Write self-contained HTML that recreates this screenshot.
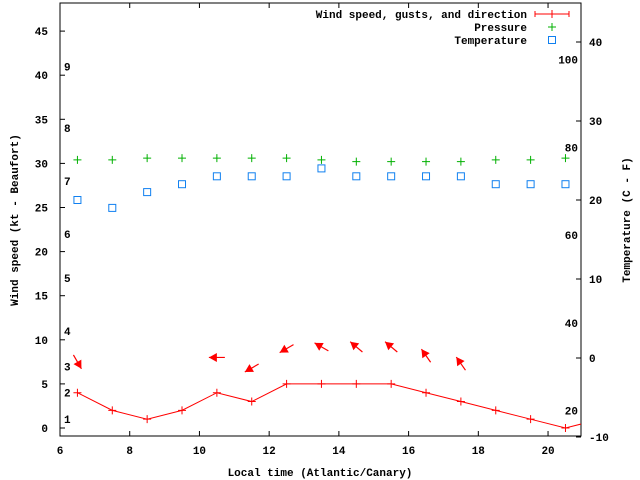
<!DOCTYPE html>
<html><head><meta charset="utf-8"><style>
body{margin:0;background:#fff}
svg{display:block;font-family:"Liberation Mono",monospace;font-size:11px;font-weight:bold}
</style></head><body>
<svg id="c" width="640" height="480" xmlns="http://www.w3.org/2000/svg"></svg>
<script>
const hours=[6.5,7.5,8.5,9.5,10.5,11.5,12.5,13.5,14.5,15.5,16.5,17.5,18.5,19.5,20.5,21.5];
const windKt=[4,2,1,2,4,3,5,5,5,5,4,3,2,1,0,1];
const pressure=[30.4,30.4,30.6,30.6,30.6,30.6,30.6,30.4,30.2,30.2,30.2,30.2,30.4,30.4,30.6];
const tempC=[20,19,21,22,23,23,23,24,23,23,23,23,22,22,22];
const arrowHours=[6.5,10.5,11.5,12.5,13.5,14.5,15.5,16.5,17.5];
const arrowKt=[7.5,8,6.8,9,9.2,9.2,9.2,8.2,7.3];
const arrowDeg=[-60,180,210,210,150,140,140,125,125];
const xTicks=[6,8,10,12,14,16,18,20];
const yTicks=[0,5,10,15,20,25,30,35,40,45];
const cTicks=[-10,0,10,20,30,40];
const fTicks=[20,40,60,80,100];
const bftLabels=[1,2,3,4,5,6,7,8,9];
const bftKt=[1,4,7,11,17,22,28,34,41];

const L=60,R=581,T=3,B=436;
const X=t=>L+(t-6)*34.86;
const YL=v=>428-v*8.82;
const YR=c=>437-(c+10)*7.9;
const svg=document.getElementById('c');
const NS='http://www.w3.org/2000/svg';
function mk(tag,at,parent){const e=document.createElementNS(NS,tag);for(const k in at)e.setAttribute(k,at[k]);(parent||svg).appendChild(e);return e;}

const clip=mk('clipPath',{id:'pc'});mk('rect',{x:L,y:T,width:R-L,height:B-T},clip);

const frame=mk('rect',{x:L,y:T,width:R-L,height:B-T,fill:'none',stroke:'#000','stroke-width':1});



xTicks.forEach(t=>{
  const x=X(t);
  mk('line',{x1:x,y1:B,x2:x,y2:B-5,stroke:'#000'});
  mk('line',{x1:x,y1:T,x2:x,y2:T+5,stroke:'#000'});
  const tx=mk('text',{x:x,y:B+18,'text-anchor':'middle'});tx.textContent=t;
  
  
});
yTicks.forEach(v=>{
  const y=YL(v);
  mk('line',{x1:L,y1:y,x2:L+5,y2:y,stroke:'#000'});
  const tx=mk('text',{x:L-12,y:y+4,'text-anchor':'end'});tx.textContent=v;
  
  
});
cTicks.forEach(c=>{
  const y=YR(c);
  mk('line',{x1:R,y1:y,x2:R-5,y2:y,stroke:'#000'});
  const tx=mk('text',{x:R+8,y:y+4});tx.textContent=c;
  
  
});
fTicks.forEach(f=>{
  const tx=mk('text',{x:R-3,y:YR((f-32)*5/9)+4,'text-anchor':'end'});tx.textContent=f;
  
  
});
bftLabels.forEach((b,i)=>{
  const tx=mk('text',{x:64,y:YL(bftKt[i])+4});tx.textContent=b;
  
  
});

let t1=mk('text',{x:320,y:476,'text-anchor':'middle'});t1.textContent='Local time (Atlantic/Canary)';

let t2=mk('text',{transform:'translate(18,220) rotate(-90)','text-anchor':'middle'});t2.textContent='Wind speed (kt - Beaufort)';

let t3=mk('text',{transform:'translate(630,220) rotate(-90)','text-anchor':'middle'});t3.textContent='Temperature (C - F)';


const g=mk('g',{'clip-path':'url(#pc)'});
const pts=hours.map((h,i)=>X(h)+','+YL(windKt[i])).join(' ');
const wl=mk('polyline',{points:pts,fill:'none',stroke:'#f00','stroke-width':1},g);


hours.forEach((h,i)=>{
  const x=X(h),y=YL(windKt[i]);
  const p=mk('path',{d:`M${x-4},${y}H${x+4}M${x},${y-4}V${y+4}`,stroke:'#f00'},g);
  
  
});
pressure.forEach((v,i)=>{
  const x=X(hours[i]),y=YL(v);
  const p=mk('path',{d:`M${x-4},${y}H${x+4}M${x},${y-4}V${y+4}`,stroke:'#00b000'},g);
  
  
});
tempC.forEach((c,i)=>{
  const x=X(hours[i]),y=YR(c);
  const r=mk('rect',{x:x-3.5,y:y-3.5,width:7,height:7,fill:'none',stroke:'#1080f0','stroke-width':1},g);
  
  
});
arrowHours.forEach((h,i)=>{
  const cx=X(h),cy=YL(arrowKt[i]);
  const a=arrowDeg[i]*Math.PI/180;
  const dx=Math.cos(a),dy=-Math.sin(a);
  const hx=cx+dx*8,hy=cy+dy*8,tx=cx-dx*8,ty=cy-dy*8;
  const px=-dy,py=dx;
  const bx=hx-dx*8,by=hy-dy*8;
  const gg=mk('g',{},g);
  
  
  mk('line',{x1:tx,y1:ty,x2:hx,y2:hy,stroke:'#f00','stroke-width':1.2},gg);
  mk('polygon',{points:`${hx},${hy} ${bx+px*4.5},${by+py*4.5} ${bx-px*4.5},${by-py*4.5}`,fill:'#f00'},gg);
});

const lg=mk('g',{});


[['Wind speed, gusts, and direction',14],['Pressure',27],['Temperature',40]].forEach(([s,y])=>{
  const t=mk('text',{x:527,y:y+4,'text-anchor':'end'},lg);t.textContent=s;
  
  
});
mk('path',{d:'M535,14H569M535,11V17M569,11V17M552,10V18',stroke:'#f00'},lg);
mk('path',{d:'M548,27H556M552,23V31',stroke:'#00b000'},lg);
mk('rect',{x:548.5,y:36.5,width:7,height:7,fill:'none',stroke:'#1080f0'},lg);
</script>
</body></html>
